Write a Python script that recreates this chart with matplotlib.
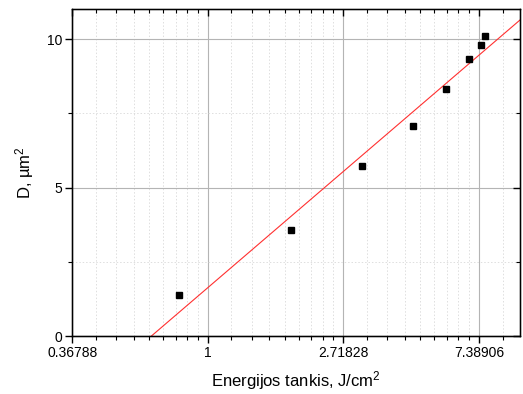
import numpy as np
import matplotlib
matplotlib.use("Agg")
import matplotlib.pyplot as plt
from matplotlib.ticker import FixedLocator, FixedFormatter, NullFormatter

plt.rcParams["font.family"] = ["Liberation Sans", "DejaVu Sans"]
plt.rcParams["mathtext.fontset"] = "custom"
plt.rcParams["mathtext.rm"] = "Liberation Sans"
plt.rcParams["mathtext.it"] = "Liberation Sans:italic"

# fluence (J/cm2) and crater area D (um2)
fluence = [0.811, 1.85, 3.12, 4.54, 5.81, 6.86, 7.48, 7.72]
diameter_sq = [1.37, 3.57, 5.72, 7.09, 8.31, 9.34, 9.80, 10.09]

x_major = [np.e ** -1, 1.0, np.e, np.e ** 2]
x_labels = ["0.36788", "1", "2.71828", "7.38906"]
y_major = [0, 5, 10]
y_minor = [2.5, 7.5]
x_lim = (np.e ** -1, 10.0)
y_lim = (0, 11)

# linear fit D vs ln(F)
slope, intercept = np.polyfit(np.log(fluence), diameter_sq, 1)

# minor ticks: 8 linear subdivisions between powers of e
minor = []
for k in range(-1, 3):
    lo, hi = np.e ** k, np.e ** (k + 1)
    minor += list(lo + (hi - lo) * np.arange(1, 9) / 9)
minor = [m for m in minor if m < x_lim[1]]


def setup_x(axis):
    axis.set_xscale("log", base=np.e)
    axis.set_xlim(*x_lim)
    axis.xaxis.set_major_locator(FixedLocator(x_major))
    axis.xaxis.set_minor_locator(FixedLocator(minor))
    axis.xaxis.set_minor_formatter(NullFormatter())


fig = plt.figure(figsize=(5.23, 3.94), dpi=100)
ax = fig.add_axes([0.138, 0.147, 0.856, 0.829])

setup_x(ax)
ax.xaxis.set_major_formatter(FixedFormatter(x_labels))
ax.set_ylim(*y_lim)
ax.set_yticks(y_major)
ax.set_yticks(y_minor, minor=True)

ax.grid(which="major", color="#b4b4b4", linewidth=0.8, linestyle="-")
ax.grid(which="minor", color="#dedede", linewidth=0.7, linestyle=(0, (1.5, 2)))
ax.set_axisbelow(True)

xf = np.exp(np.linspace(np.log(x_lim[0]), np.log(x_lim[1]), 200))
ax.plot(xf, slope * np.log(xf) + intercept, color="#ff3030", linewidth=0.8, zorder=2)
ax.plot(fluence, diameter_sq, "s", color="black", markersize=5, zorder=3)

for s in ax.spines.values():
    s.set_linewidth(1.0)

ax.tick_params(which="major", direction="out", length=5, width=1.0, labelsize=10, pad=2)
ax.tick_params(which="minor", direction="out", length=3, width=0.8)

# mirrored inward ticks on top and right
ax_top = ax.twiny()
setup_x(ax_top)
ax_top.xaxis.set_major_formatter(NullFormatter())
ax_top.tick_params(which="major", direction="in", length=5, width=1.0)
ax_top.tick_params(which="minor", direction="in", length=3, width=0.8)

ax_right = ax.twinx()
ax_right.set_ylim(*y_lim)
ax_right.set_yticks(y_major)
ax_right.set_yticks(y_minor, minor=True)
ax_right.set_yticklabels([])
ax_right.tick_params(which="major", direction="in", length=5, width=1.0)
ax_right.tick_params(which="minor", direction="in", length=3, width=0.8)

ax.set_xlabel("Energijos tankis, J/cm$^2$", fontsize=12, labelpad=7)
ax.set_ylabel("D, µm$^2$", fontsize=12, labelpad=8)

fig.savefig("out.png", dpi=100)
